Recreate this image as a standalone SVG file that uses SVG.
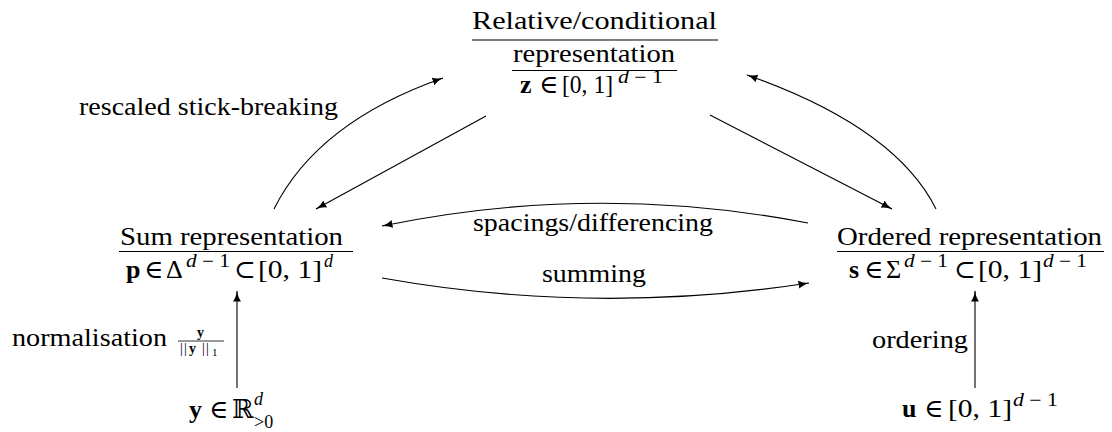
<svg xmlns="http://www.w3.org/2000/svg" width="1112" height="432" viewBox="0 0 1112 432" font-family="Liberation Serif, DejaVu Serif, serif">
<style>
text{font-family:"Liberation Serif","DejaVu Serif",serif;font-size:26px;fill:#000}
.b{font-weight:bold}
.i{font-style:italic}
.sup{font-size:18px}
.sm{font-size:14px}
.rule{stroke:#000;stroke-width:1.1}
.edge{fill:none;stroke:#000;stroke-width:1.1;marker-end:url(#ah)}
</style>
<defs>
<marker id="ah" markerUnits="userSpaceOnUse" markerWidth="12" markerHeight="9" refX="10.5" refY="4" orient="auto" viewBox="0 0 12 9">
<path d="M0,0 Q4,3 11,4 Q4,5 0,8 Z" fill="#000"/>
</marker>
</defs>

<g id="node-relative">
<text x="472" y="29" textLength="245" lengthAdjust="spacingAndGlyphs">Relative/conditional</text>
<line class="rule" x1="472" y1="40" x2="718" y2="40"/>
<text x="513" y="62" textLength="162" lengthAdjust="spacingAndGlyphs">representation</text>
<line class="rule" x1="512" y1="70.5" x2="677" y2="70.5"/>
<text y="93"><tspan x="520" class="b">z</tspan><tspan x="539">∈</tspan><tspan x="562" textLength="51" lengthAdjust="spacingAndGlyphs">[0, 1]</tspan><tspan x="618" y="83" class="sup" textLength="45" lengthAdjust="spacingAndGlyphs"><tspan class="i">d</tspan> − 1</tspan></text>
</g>

<g id="node-sum">
<text x="120" y="245" textLength="223" lengthAdjust="spacingAndGlyphs">Sum representation</text>
<line class="rule" x1="119" y1="251.5" x2="353" y2="251.5"/>
<text y="278"><tspan x="126" class="b">p</tspan><tspan x="144">∈</tspan><tspan x="166">Δ</tspan><tspan x="186" y="267" class="sup" textLength="44" lengthAdjust="spacingAndGlyphs"><tspan class="i">d</tspan> − 1</tspan><tspan x="234" y="278">⊂</tspan><tspan x="258" textLength="64" lengthAdjust="spacingAndGlyphs">[0, 1]</tspan><tspan x="324" y="267" class="sup i">d</tspan></text>
</g>

<g id="node-ordered">
<text x="837" y="245" textLength="265" lengthAdjust="spacingAndGlyphs">Ordered representation</text>
<line class="rule" x1="837" y1="251.5" x2="1104" y2="251.5"/>
<text y="278"><tspan x="849" class="b">s</tspan><tspan x="864">∈</tspan><tspan x="886">Σ</tspan><tspan x="904" y="267" class="sup" textLength="44" lengthAdjust="spacingAndGlyphs"><tspan class="i">d</tspan> − 1</tspan><tspan x="954" y="278">⊂</tspan><tspan x="978" textLength="64" lengthAdjust="spacingAndGlyphs">[0, 1]</tspan><tspan x="1043" y="267" class="sup" textLength="44" lengthAdjust="spacingAndGlyphs"><tspan class="i">d</tspan> − 1</tspan></text>
</g>

<g id="node-y">
<text y="418"><tspan x="189" class="b">y</tspan><tspan x="209">∈</tspan><tspan x="232">ℝ</tspan><tspan x="254" y="405" class="sup i">d</tspan><tspan x="254" y="428" class="sup">&gt;0</tspan></text>
</g>

<g id="node-u">
<text y="417"><tspan x="902" class="b">u</tspan><tspan x="924">∈</tspan><tspan x="948" textLength="64" lengthAdjust="spacingAndGlyphs">[0, 1]</tspan><tspan x="1013" y="406" class="sup" textLength="45" lengthAdjust="spacingAndGlyphs"><tspan class="i">d</tspan> − 1</tspan></text>
</g>

<g id="connectors">
<path class="edge" d="M274,209 Q317.5,122 443,78"/>
<path class="edge" d="M486,116 L316,209"/>
<path class="edge" d="M710,115 L892,209"/>
<path class="edge" d="M936,209 Q895,127 747,75"/>
<path class="edge" d="M808,223 Q595,182 382,226"/>
<path class="edge" d="M382,278 Q595,316 809,283"/>
<path class="edge" d="M237,388 L237,291"/>
<path class="edge" d="M975,388 L975,291"/>
</g>

<g id="labels">
<text x="79" y="115" textLength="259" lengthAdjust="spacingAndGlyphs">rescaled stick-breaking</text>
<text x="473" y="231" textLength="240" lengthAdjust="spacingAndGlyphs">spacings/differencing</text>
<text x="542" y="282" textLength="104" lengthAdjust="spacingAndGlyphs">summing</text>
<text x="872" y="348" textLength="96" lengthAdjust="spacingAndGlyphs">ordering</text>
<text x="12" y="346" textLength="155" lengthAdjust="spacingAndGlyphs">normalisation</text>
<text x="197" y="337" class="sm b">y</text>
<line x1="178" y1="341" x2="224" y2="341" stroke="#000" stroke-width="0.8"/>
<text y="353" class="sm"><tspan x="180">|</tspan><tspan x="184">|</tspan><tspan x="189" class="b">y</tspan><tspan x="202">|</tspan><tspan x="206">|</tspan><tspan x="212" y="356" font-size="11">1</tspan></text>
</g>
</svg>
